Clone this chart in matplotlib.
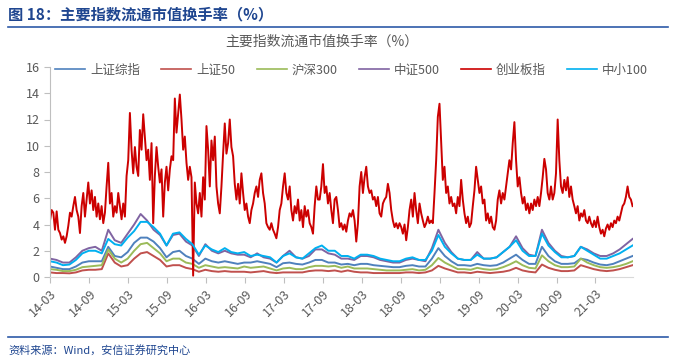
import numpy as np
import pandas as pd
import matplotlib
matplotlib.use('Agg')
from matplotlib import pyplot as plt
from matplotlib import dates as mdates

plt.rcParams['font.family'] = ['Noto Sans CJK SC', 'DejaVu Sans']

# 创业板指, roughly weekly readings, 2014-03 .. 2021-08
cyb = [4.3, 5.1, 4.9, 3.6, 5.0, 3.6, 3.35, 2.85, 3.1, 2.6,
       3.1, 3.9, 4.9, 4.6, 5.4, 6.1, 5.1, 4.6, 3.35, 5.4,
       6.4, 4.6, 5.9, 7.2, 5.6, 6.6, 5.1, 6.1, 4.6, 5.6,
       4.4, 5.4, 4.1, 4.9, 6.9, 8.7, 5.6, 6.4, 4.6, 5.4,
       4.9, 6.4, 5.4, 4.4, 5.6, 4.6, 7.7, 8.9, 12.5, 9.7,
       7.9, 9.9, 8.4, 7.7, 11.2, 9.7, 12.4, 10.7, 8.9, 9.7,
       7.4, 10.2, 4.1, 7.7, 9.9, 8.4, 7.2, 8.2, 4.6, 7.2,
       8.4, 6.6, 8.2, 9.2, 8.9, 13.6, 11.0, 12.5, 13.9, 12.0,
       9.7, 10.7, 8.7, 7.4, 8.4,
       7.6, 0.1, 7.2, 5.6, 4.85, 6.4, 4.6, 7.6, 5.9, 11.5,
       9.7, 6.9, 10.4, 8.9, 10.7, 6.9, 5.6, 4.85, 6.9, 9.4,
       11.7, 9.4, 10.2, 12.0, 9.9, 9.2, 7.1, 5.9, 7.1, 5.6,
       7.9, 6.4, 5.1, 5.6, 4.6, 4.1, 5.1, 5.6, 6.4, 6.9,
       6.1, 7.4, 7.9, 6.4, 5.6, 4.1, 3.8, 3.6, 4.1, 3.6,
       3.3, 2.95, 3.8, 5.1, 5.6, 6.9, 7.9, 6.4, 5.9, 6.9,
       5.1, 4.3, 5.4, 4.85, 5.9, 4.3, 5.1, 3.8, 5.4, 4.6,
       5.1, 4.1, 3.8, 3.3, 5.4, 6.9, 5.9, 5.9, 6.9, 8.6,
       6.4, 6.9, 5.6, 6.4, 5.1, 4.1, 5.9, 6.1, 5.1,
       3.8, 4.1, 3.6, 4.0, 3.45, 4.3, 4.85, 4.6, 5.1, 4.3,
       2.7, 4.1, 6.9, 8.0, 6.4, 7.6, 8.4, 6.9, 6.4, 6.6,
       5.9, 6.1, 5.4, 6.1, 4.85, 4.6, 5.6, 5.9, 6.1, 7.1,
       6.4, 5.1, 4.3, 3.8, 4.1, 3.7, 4.1, 3.8, 3.3, 4.0,
       2.8, 3.8, 5.1, 5.9, 4.6, 6.4, 5.1, 4.1, 5.6, 4.85,
       4.3, 3.8, 4.1, 4.6, 4.1, 4.3, 4.1, 6.4, 8.9, 12.2,
       13.2, 10.2, 7.4, 8.4, 6.4, 6.9, 5.6, 6.1, 5.4, 5.6,
       4.85, 6.1, 5.4, 7.4, 5.9, 4.85, 4.1, 4.6, 3.8, 4.1,
       5.4, 6.6, 8.4, 7.4, 6.4, 6.9, 5.6, 5.9,
       4.3, 4.85, 4.1, 4.6, 3.8, 3.6, 4.3, 5.9, 6.6, 5.6,
       6.4, 5.9, 6.9, 7.9, 8.9, 8.2, 10.2, 11.8, 8.9, 6.9,
       7.6, 6.4, 5.6, 6.1, 5.1, 5.6, 4.85, 5.6, 5.1, 5.9,
       5.4, 6.1, 5.4, 6.4, 7.6, 9.0, 8.2, 6.4, 5.9, 6.9,
       5.9, 6.4, 7.9, 12.0, 8.9, 6.9, 6.4, 7.4, 6.6, 7.6,
       6.1, 6.9, 5.9, 5.4, 4.85, 5.4, 4.3, 4.85, 4.6, 5.1,
       4.3, 4.1, 4.6, 4.1, 3.8, 4.3, 3.8, 4.6, 3.8, 3.3,
       3.6, 3.1, 3.7, 4.0, 3.6, 4.1, 3.8, 4.3, 4.1, 4.6,
       4.3, 4.85, 5.4, 5.6, 6.1, 6.9, 6.1, 5.9, 5.4]

# the other indices, monthly readings
szzz = [0.8, 0.7, 0.6, 0.6, 0.8, 1.1, 1.2, 1.2, 1.2, 2.3,
        1.6, 1.5, 1.9, 2.6, 3.0, 3.0, 2.7, 2.2, 1.5, 1.9,
        2.0, 1.6, 1.4, 1.0, 1.4, 1.2, 1.1, 1.2, 1.1, 1.0,
        1.1, 1.1, 1.2, 1.1, 1.0, 0.75, 1.05, 1.1, 1.0, 0.95,
        1.1, 1.3, 1.3, 1.1, 1.1, 0.95, 1.0, 0.9, 1.0, 1.0,
        0.9, 0.85, 0.8, 0.75, 0.75, 0.85, 0.9, 0.8, 0.8, 1.4,
        2.2, 1.6, 1.2, 0.9, 0.9, 0.85, 1.0, 0.9, 0.85, 0.9,
        1.1, 1.4, 1.7, 1.3, 1.0, 1.0, 2.3, 1.6, 1.2, 1.0,
        1.0, 1.05, 1.4, 1.3, 1.1, 0.95, 0.9, 1.0, 1.2, 1.4, 1.6]
sz50 = [0.35, 0.3, 0.3, 0.28, 0.35, 0.5, 0.55, 0.55, 0.6, 1.8,
        1.1, 0.8, 0.9, 1.4, 1.8, 1.9, 1.6, 1.3, 0.8, 0.9,
        0.9, 0.7, 0.6, 0.4, 0.55, 0.45, 0.4, 0.45, 0.4, 0.4,
        0.4, 0.35, 0.4, 0.45, 0.35, 0.3, 0.35, 0.35, 0.35, 0.35,
        0.45, 0.5, 0.5, 0.45, 0.5, 0.4, 0.5, 0.4, 0.35, 0.35,
        0.3, 0.3, 0.3, 0.3, 0.3, 0.35, 0.35, 0.3, 0.35, 0.5,
        0.85, 0.65, 0.5, 0.35, 0.35, 0.3, 0.4, 0.35, 0.3, 0.35,
        0.4, 0.5, 0.7, 0.5, 0.4, 0.35, 0.95, 0.7, 0.55, 0.45,
        0.45, 0.5, 0.9, 0.75, 0.6, 0.5, 0.45, 0.5, 0.6, 0.75, 0.9]
hs300 = [0.6, 0.55, 0.45, 0.45, 0.55, 0.75, 0.8, 0.85, 0.9, 2.1,
         1.4, 1.1, 1.4, 2.0, 2.5, 2.6, 2.2, 1.8, 1.2, 1.4,
         1.4, 1.1, 1.0, 0.7, 0.9, 0.8, 0.7, 0.75, 0.7, 0.65,
         0.8, 0.7, 0.75, 0.8, 0.65, 0.5, 0.65, 0.7, 0.6, 0.6,
         0.75, 0.85, 0.85, 0.8, 0.85, 0.7, 0.8, 0.65, 0.65, 0.65,
         0.6, 0.55, 0.5, 0.5, 0.5, 0.55, 0.6, 0.5, 0.55, 0.9,
         1.45, 1.1, 0.85, 0.6, 0.6, 0.55, 0.7, 0.6, 0.55, 0.6,
         0.75, 0.95, 1.2, 0.9, 0.7, 0.65, 1.65, 1.2, 0.9, 0.75,
         0.75, 0.8, 1.4, 1.1, 0.9, 0.75, 0.7, 0.75, 0.85, 1.0, 1.2]
zz500 = [1.4, 1.3, 1.1, 1.1, 1.5, 2.0, 2.2, 2.3, 2.0, 3.6,
         2.8, 2.6, 3.3, 4.0, 4.8, 4.3, 3.6, 3.2, 2.4, 3.2,
         3.3, 2.7, 2.4, 1.6, 2.5, 2.0, 1.8, 2.0, 1.8, 1.7,
         1.7, 1.5, 1.8, 1.5, 1.4, 1.1, 1.6, 2.0, 1.5, 1.4,
         1.6, 2.1, 2.1, 1.8, 1.7, 1.4, 1.4, 1.3, 1.6, 1.6,
         1.5, 1.3, 1.2, 1.1, 1.1, 1.3, 1.4, 1.3, 1.2, 2.2,
         3.6, 2.6, 1.9, 1.4, 1.3, 1.3, 1.9, 1.4, 1.4, 1.5,
         1.9, 2.3, 3.1, 2.2, 1.7, 1.6, 3.6, 2.6, 2.0, 1.6,
         1.5, 1.6, 2.3, 2.1, 1.8, 1.6, 1.6, 1.8, 2.1, 2.5, 2.9]
zx100 = [1.2, 1.1, 0.9, 0.95, 1.3, 1.8, 2.0, 2.0, 1.8, 2.9,
         2.5, 2.4, 3.0, 3.5, 4.2, 4.2, 3.8, 3.3, 2.4, 3.3,
         3.4, 2.9, 2.5, 1.7, 2.4, 2.1, 1.9, 2.2, 1.9, 1.8,
         1.9, 1.6, 1.7, 1.6, 1.5, 1.1, 1.6, 1.8, 1.5, 1.4,
         1.8, 2.2, 2.4, 2.0, 2.0, 1.6, 1.6, 1.4, 1.7, 1.7,
         1.6, 1.4, 1.3, 1.2, 1.2, 1.4, 1.5, 1.3, 1.3, 2.0,
         3.2, 2.3, 1.8, 1.4, 1.3, 1.3, 1.7, 1.4, 1.4, 1.5,
         1.9, 2.3, 2.8, 2.0, 1.6, 1.6, 3.3, 2.4, 1.9, 1.5,
         1.5, 1.6, 2.3, 2.0, 1.7, 1.4, 1.4, 1.6, 1.8, 2.1, 2.4]

names = ['上证综指', '上证50', '沪深300', '中证500', '创业板指', '中小100']
colors = ['#4F81BD', '#C0504D', '#9BBB59', '#8064A2', '#CC0000', '#00B0F0']
tick_labels = ['14-03', '14-09', '15-03', '15-09', '16-03', '16-09', '17-03',
               '17-09', '18-03', '18-09', '19-03', '19-09', '20-03', '20-09', '21-03']

start, end = '2014-03-01', '2021-08-22'
d_week = pd.date_range(start, end, periods=len(cyb))
d_month = pd.date_range(start, end, periods=len(szzz))

fig = plt.figure(figsize=(6.74, 3.59), dpi=100)
ax = fig.add_axes([50 / 674, 1 - 277 / 359, 583 / 674, 210 / 359])

series = [(d_month, szzz), (d_month, sz50), (d_month, hs300),
          (d_month, zz500), (d_week, cyb), (d_month, zx100)]
widths = [1.4, 1.4, 1.4, 1.4, 1.4, 1.4]
for (d, v), name, c, w in zip(series, names, colors, widths):
    ax.plot(d, v, color=c, lw=w, label=name)

ax.set_ylim(0, 16)
ax.set_yticks(range(0, 17, 2))
ax.set_xlim(pd.Timestamp('2014-03-01'), pd.Timestamp('2021-08-24'))
tick_dates = [pd.Timestamp('20' + t[:2] + '-' + t[3:] + '-01') for t in tick_labels]
ax.set_xticks(tick_dates)
ax.set_xticklabels(tick_labels, rotation=45, ha='right', va='top',
                   rotation_mode='anchor')
ax.tick_params(axis='both', colors='#BFBFBF', labelcolor='#595959',
               labelsize=9, length=4, width=0.8)
for s in ['top', 'right']:
    ax.spines[s].set_visible(False)
ax.spines['left'].set_color('#BFBFBF')
ax.spines['bottom'].set_color('#D9D9D9')

leg = ax.legend(ncol=6, loc='upper left', bbox_to_anchor=(0.0, 1.04), frameon=False,
                fontsize=9, handlelength=2.4, handletextpad=0.4, columnspacing=1.7,
                labelcolor='#595959', borderaxespad=0)
for h in leg.get_lines():
    h.set_linewidth(1.2)

fig.text(322 / 674, 1 - 42 / 359, '主要指数流通市值换手率（%）', ha='center',
         va='center', fontsize=10, color='#595959')
fig.text(8 / 674, 1 - 14 / 359, '图 18：主要指数流通市值换手率（%）', ha='left',
         va='center', fontsize=11, fontweight='bold', color='#1F4690')
fig.add_artist(plt.Line2D([8 / 674, 668 / 674], [1 - 27 / 359] * 2,
                          color='#2E5AA8', lw=1.2))
fig.add_artist(plt.Line2D([8 / 674, 668 / 674], [1 - 337 / 359] * 2,
                          color='#2E5AA8', lw=1.2))
fig.text(8 / 674, 1 - 350 / 359, '资料来源：Wind，安信证券研究中心', ha='left',
         va='center', fontsize=8, color='#1F4690', style='italic')

fig.savefig('out.png', dpi=100)
